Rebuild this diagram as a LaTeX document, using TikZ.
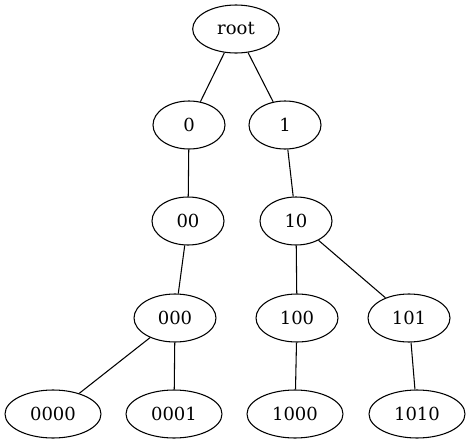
\documentclass[tikz,border=0pt]{standalone}
\usepackage{fontspec}
\setmainfont{DejaVu Serif}
\usetikzlibrary{shapes.geometric}
\tikzset{
  tn/.style={draw, ellipse, line width=0.8pt, inner sep=0pt, minimum height=36pt, font=\fontsize{13.5}{16}\selectfont},
  w1/.style={tn, minimum width=54pt},
  w3/.style={tn, minimum width=61.5pt},
  w4/.style={tn, minimum width=72pt},
  wr/.style={tn, minimum width=65pt},
  edge/.style={line width=0.8pt}
}
\begin{document}
\begin{tikzpicture}[x=0.75pt, y=-0.75pt]
\useasboundingbox (0,0) rectangle (472,443);
\node[wr] (root) at (236,29) {root};
\node[w1] (n0) at (189,125) {0};
\node[w1] (n1) at (285,125) {1};
\node[w1] (n00) at (188,221) {00};
\node[w1] (n10) at (296,221) {10};
\node[w3] (n000) at (175,318) {000};
\node[w3] (n100) at (297,318) {100};
\node[w3] (n101) at (409,318) {101};
\node[w4] (n0000) at (53,414) {0000};
\node[w4] (n0001) at (174,414) {0001};
\node[w4] (n1000) at (295,414) {1000};
\node[w4] (n1010) at (417,414) {1010};
\draw[edge] (root) -- (n0);
\draw[edge] (root) -- (n1);
\draw[edge] (n0) -- (n00);
\draw[edge] (n1) -- (n10);
\draw[edge] (n00) -- (n000);
\draw[edge] (n10) -- (n100);
\draw[edge] (n10) -- (n101);
\draw[edge] (n000) -- (n0000);
\draw[edge] (n000) -- (n0001);
\draw[edge] (n100) -- (n1000);
\draw[edge] (n101) -- (n1010);
\end{tikzpicture}
\end{document}
